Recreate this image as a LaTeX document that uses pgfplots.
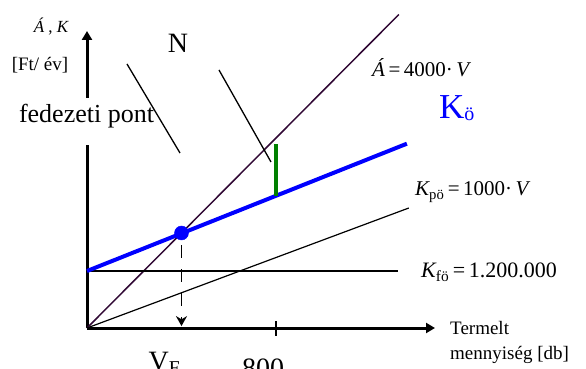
\documentclass[border=0pt]{standalone}
\usepackage{fontspec}
\setmainfont{Liberation Serif}
\usepackage{pgfplots}
\pgfplotsset{compat=1.18}
\usetikzlibrary{arrows.meta}
\definecolor{arbevetel}{RGB}{48,8,52}
\definecolor{zold}{RGB}{0,128,0}
\newcommand{\fs}[1]{\fontsize{#1}{#1}\selectfont}

\begin{document}
\begin{tikzpicture}
  \path[use as bounding box] (-87pt,-41pt) rectangle (499pt,328pt);
  \begin{axis}[
    anchor=origin, at={(0pt,0pt)},
    x=0.23625pt, y=0.0475pt,
    xmin=0, xmax=1473,
    ymin=0, ymax=6253,
    axis lines=left,
    axis line style={line width=3pt, -{Triangle[length=9pt,width=10pt]}},
    ytick=\empty,
    xtick={800},
    xticklabels={800},
    major tick length=15pt,
    tick align=center,
    tick style={black, line width=1.5pt},
    xticklabel style={font=\fs{28}, anchor=base, yshift=-42pt, xshift=-13pt},
    extra x ticks={400},
    extra x tick labels={V\textsubscript{F}},
    extra x tick style={major tick length=0pt, xticklabel style={xshift=-4pt}},
    clip=false,
  ]
    % Árbevétel: Á = 4000 V
    \addplot[arbevetel, line width=1.5pt] coordinates {(0,0) (1320,6600)};
    % Fix költség
    \addplot[black, line width=1.2pt] coordinates {(0,1200) (1316,1200)};
    % Proporcionális költség
    \addplot[black, line width=1.2pt] coordinates {(0,0) (1362,2526)};
    % Összes költség
    \addplot[blue, line width=4pt] coordinates {(0,1200) (1354,3880)};
    % Nyereség (800 db-nál)
    \addplot[zold, line width=3.5pt] coordinates {(800,2780) (800,3874)};
    % V_F leolvasása
    \addplot[black, line width=1.5pt, dash pattern=on 13pt off 11pt,
      -{Stealth[length=10pt,width=11pt]}] coordinates {(400,1747) (400,40)};
    % Fedezeti pont
    \addplot[only marks, mark=*, mark size=7pt, blue] coordinates {(400,2000)};
  \end{axis}

  \node at (-36pt,301pt) {\fs{17}{\itshape Á} , {\itshape K}};
  \node at (-47pt,263pt) {\fs{19}[Ft/ év]};
  \node at (91pt,285pt) {\fs{28}N};
  \fill[white] (-6pt,183pt) rectangle (6pt,230pt);
  \node[anchor=base] at (-0.5pt,205pt) {\fs{26}fedezeti pont};
  \draw[black, line width=1.3pt] (40pt,264pt) -- (93pt,175pt);
  \draw[black, line width=1.3pt] (132pt,258pt) -- (184pt,166pt);

  \node[anchor=base west, inner sep=0pt] at (285pt,251pt)
    {\fs{21}{\itshape Á}\,=\,4000·\,{\itshape V}};
  \node[anchor=base west, inner sep=0pt, text=blue] at (352pt,209pt)
    {\fs{35}K{\fs{20}\raisebox{-2pt}{ö}}};
  \node[anchor=base west, inner sep=0pt] at (328pt,132pt)
    {\fs{21}{\itshape K}\textsubscript{pö}\,=\,1000·\,{\itshape V}};
  \node[anchor=base west, inner sep=0pt] at (334pt,50pt)
    {\fs{22}{\itshape K}\textsubscript{fö}\,=\,1.200.000};
  \node[anchor=base west, inner sep=0pt] at (363pt,-7pt) {\fs{19}Termelt};
  \node[anchor=base west, inner sep=0pt] at (363pt,-31pt) {\fs{19}mennyiség [db]};
\end{tikzpicture}
\end{document}
